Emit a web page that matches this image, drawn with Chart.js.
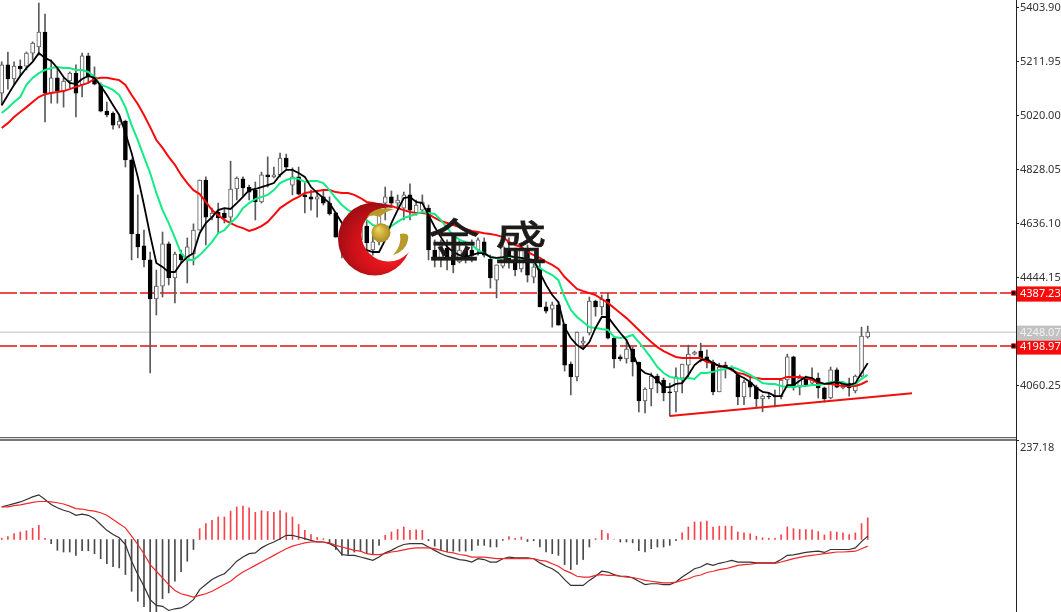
<!DOCTYPE html>
<html>
<head>
<meta charset="utf-8">
<style>
html,body{margin:0;padding:0;background:#fff;width:1061px;height:612px;overflow:hidden}
canvas{position:absolute;left:0;display:block}
#c1{top:0}
#c2{top:440px}
#axis{position:absolute;left:1016px;top:0;width:1px;height:612px;background:#222}
#sep{position:absolute;left:0;top:437px;width:1016px;height:1px;background:#666;border-bottom:1px solid #ddd;box-shadow:0 2px 0 #777}
</style>
<script src="https://cdn.jsdelivr.net/npm/chart.js@4/dist/chart.umd.min.js"></script>
</head>
<body>
<canvas id="c1" width="1061" height="436"></canvas>
<canvas id="c2" width="1061" height="172"></canvas>
<div id="sep"></div>
<div id="axis"></div>
<script>
const opens=[5098,5198,5148,5194,5194,5240,5262,5315,5098,5152,
5105,5141,5169,5127,5230,5155,5127,5034,5027,4984,
4998,4860,4597,4555,4505,4366,4412,4562,4441,4526,
4505,4526,4611,4789,4657,4675,4671,4657,4757,4793,
4764,4753,4711,4807,4800,4807,4867,4771,4800,4736,
4729,4721,4729,4707,4672,4586,4558,4523,4576,4625,
4540,4569,4707,4729,4707,4689,4736,4672,4682,4689,
4540,4512,4547,4522,4498,4540,4540,4540,4569,4508,
4433,4483,4540,4505,4473,4540,4444,4476,4338,4330,
4345,4277,4135,4089,4209,4245,4359,4338,4366,4227,
4160,4153,4188,4142,4004,4046,4092,4078,4036,4036,
4085,4131,4170,4181,4160,4142,4036,4131,4114,4096,
4018,4071,4053,4011,4021,4021,4018,4078,4160,4053,
4085,4067,4085,4050,4014,4114,4050,4067,4039,4092,4231];
const highs=[5209,5244,5209,5216,5244,5280,5418,5379,5216,5187,
5152,5173,5198,5240,5240,5191,5134,5066,5031,5020,
5002,4864,4736,4611,4533,4469,4604,4569,4533,4540,
4583,4633,4789,4800,4689,4707,4689,4856,4800,4800,
4771,4782,4817,4871,4835,4885,4881,4832,4835,4778,
4753,4753,4753,4729,4675,4593,4576,4593,4640,4647,
4593,4689,4764,4750,4736,4746,4775,4718,4736,4700,
4576,4576,4576,4558,4576,4558,4576,4583,4583,4522,
4487,4576,4583,4547,4558,4558,4505,4505,4355,4355,
4355,4277,4142,4248,4231,4373,4362,4380,4387,4231,
4167,4220,4195,4142,4050,4103,4099,4085,4067,4121,
4135,4202,4181,4209,4185,4149,4138,4142,4128,4103,
4078,4089,4060,4025,4032,4042,4078,4170,4163,4096,
4092,4121,4103,4053,4124,4121,4071,4085,4096,4266,4270];
const lows=[5055,5112,5127,5159,5180,5216,5233,4995,5062,5062,
5048,5116,5013,5084,5137,5127,5031,5013,4970,4974,
4835,4505,4512,4480,4103,4309,4373,4416,4352,4494,
4423,4487,4611,4558,4647,4600,4636,4640,4718,4729,
4718,4647,4707,4764,4796,4800,4828,4736,4736,4672,
4682,4657,4700,4664,4586,4512,4498,4487,4540,4540,
4522,4558,4647,4693,4693,4647,4647,4664,4675,4505,
4480,4480,4469,4459,4494,4494,4498,4522,4515,4405,
4370,4476,4476,4448,4462,4426,4423,4338,4316,4266,
4273,4110,4025,4075,4192,4238,4305,4309,4224,4121,
4146,4138,4092,3965,3961,3986,4032,4004,3950,3965,
4032,4089,4167,4142,4121,4025,4036,4085,4110,3990,
3990,4018,3982,3965,4011,3982,4011,4053,4042,4025,
4057,4064,4014,4000,4011,4050,4046,4021,4032,4089,4227];
const closes=[5198,5148,5194,5184,5240,5276,5315,5098,5152,5105,
5141,5169,5098,5230,5155,5130,5034,5020,4984,4998,
4860,4597,4551,4505,4366,4412,4562,4441,4526,4505,
4551,4611,4789,4657,4671,4654,4654,4757,4796,4761,
4746,4711,4807,4800,4807,4867,4835,4800,4739,4729,
4721,4729,4707,4668,4586,4540,4523,4576,4618,4565,
4569,4682,4729,4707,4718,4736,4682,4700,4711,4540,
4512,4558,4512,4487,4540,4512,4522,4576,4522,4441,
4487,4551,4498,4469,4540,4451,4480,4338,4323,4345,
4273,4131,4089,4248,4216,4359,4338,4366,4227,4153,
4153,4188,4142,4004,4046,4092,4067,4032,4032,4089,
4135,4170,4177,4156,4142,4036,4124,4121,4121,4018,
4071,4053,4011,4021,4018,4018,4078,4160,4053,4085,
4060,4085,4050,4011,4114,4053,4064,4050,4092,4234,4248.07];
const maFast=[5055,5091,5127,5159,5187,5209,5240,5223,5212,5187,
5155,5134,5130,5148,5159,5152,5123,5091,5055,5020,
4956,4885,4800,4700,4593,4494,4480,4462,4462,4494,
4515,4529,4600,4636,4657,4682,4689,4686,4707,4729,
4753,4757,4764,4771,4778,4807,4825,4825,4814,4800,
4764,4743,4725,4707,4672,4636,4600,4576,4547,4540,
4533,4533,4576,4636,4682,4725,4729,4711,4707,4664,
4622,4586,4551,4533,4522,4515,4522,4529,4529,4515,
4512,4515,4519,4515,4512,4508,4505,4459,4416,4380,
4355,4266,4227,4202,4188,4213,4263,4302,4302,4273,
4245,4220,4174,4121,4103,4096,4078,4053,4053,4064,
4067,4096,4131,4149,4153,4138,4128,4124,4117,4096,
4085,4071,4050,4036,4032,4021,4021,4060,4060,4075,
4089,4085,4071,4064,4067,4071,4064,4060,4067,4103,4138];
const maMid=[5027,5045,5066,5084,5127,5152,5169,5180,5187,5191,
5187,5187,5180,5180,5173,5155,5127,5120,5109,5091,
5048,4984,4931,4871,4814,4743,4682,4636,4583,4529,
4505,4505,4522,4544,4569,4600,4611,4636,4657,4689,
4707,4721,4729,4736,4753,4778,4789,4796,4793,4782,
4785,4785,4778,4753,4725,4700,4682,4672,4664,4647,
4629,4622,4622,4625,4640,4654,4661,4668,4675,4672,
4668,4647,4618,4593,4576,4569,4558,4540,4529,4515,
4512,4512,4515,4515,4512,4508,4494,4476,4462,4451,
4433,4373,4327,4302,4284,4266,4263,4259,4256,4231,
4227,4231,4238,4213,4185,4156,4124,4103,4089,4085,
4082,4085,4082,4103,4103,4107,4114,4117,4124,4117,
4107,4096,4082,4067,4064,4064,4057,4053,4053,4057,
4057,4060,4060,4064,4071,4071,4071,4060,4064,4082,4096];
const maSlow=[4974,4991,5013,5031,5048,5066,5084,5094,5098,5102,
5105,5112,5120,5127,5134,5148,5152,5152,5148,5144,
5127,5091,5059,5020,4977,4931,4903,4871,4843,4807,
4778,4753,4739,4711,4682,4664,4647,4636,4625,4618,
4608,4615,4625,4640,4664,4689,4704,4718,4729,4743,
4746,4750,4753,4753,4746,4743,4743,4736,4725,4711,
4707,4700,4700,4697,4689,4682,4675,4672,4672,4668,
4654,4643,4636,4629,4622,4615,4608,4604,4600,4597,
4593,4586,4569,4558,4551,4533,4522,4512,4498,4487,
4473,4444,4423,4402,4394,4387,4380,4366,4352,4334,
4316,4298,4277,4256,4234,4213,4195,4181,4170,4160,
4156,4156,4156,4156,4142,4138,4128,4124,4114,4103,
4099,4089,4085,4082,4082,4082,4082,4089,4089,4089,
4085,4078,4067,4064,4064,4060,4057,4057,4057,4064,4075];
const macdHist=[3,7,14,18,21,27,34,3,-10,-26,
-30,-30,-38,-27,-27,-34,-46,-58,-65,-68,
-84,-124,-148,-161,-176,-176,-142,-128,-100,-77,
-52,-24,26,38,46,54,54,68,78,80,
76,65,69,67,65,69,64,54,36,22,
12,5,2,-10,-24,-38,-36,-30,-28,-34,
-34,-14,10,18,24,30,22,23,22,-3,
-16,-26,-30,-28,-28,-28,-26,-14,-14,-18,
-18,-2,7,3,6,-5,-3,-18,-30,-34,
-38,-60,-72,-60,-48,-18,2,22,14,0,
-6,-6,-8,-27,-30,-22,-18,-18,-14,-3,
16,30,42,42,44,30,32,32,32,18,
16,14,8,4,3,3,11,30,26,24,
24,23,19,11,19,18,16,12,16,38,52];
const macdLine=[78,82,86,90,96,102,107,96,84,76,
70,66,58,61,58,50,36,22,12,4,
-12,-52,-84,-112,-144,-158,-160,-170,-166,-164,
-156,-144,-120,-108,-96,-88,-82,-68,-52,-42,
-34,-32,-20,-12,-6,2,10,10,6,2,
-2,-6,-6,-10,-18,-36,-38,-38,-42,-46,
-50,-42,-32,-26,-18,-12,-10,-10,-10,-18,
-26,-34,-40,-44,-48,-50,-54,-46,-48,-54,
-54,-46,-42,-44,-44,-44,-46,-56,-64,-70,
-80,-96,-110,-110,-110,-98,-88,-76,-78,-84,
-88,-88,-92,-100,-108,-106,-106,-108,-108,-102,
-90,-80,-70,-66,-58,-62,-57,-54,-50,-54,
-54,-54,-56,-56,-56,-56,-48,-38,-37,-34,
-31,-29,-28,-31,-24,-24,-24,-24,-20,-5,8];
const macdSignal=[78,78,81,83,86,89,91,91,90,88,
85,80,74,73,70,68,64,58,48,38,
28,8,-12,-34,-60,-76,-92,-108,-122,-130,
-134,-138,-134,-130,-124,-116,-108,-100,-88,-78,
-70,-62,-54,-46,-38,-30,-22,-16,-12,-8,
-6,-5,-6,-8,-14,-18,-22,-26,-28,-34,
-36,-36,-34,-30,-28,-25,-22,-20,-20,-20,
-22,-26,-30,-32,-36,-38,-42,-42,-42,-44,
-46,-46,-46,-46,-46,-46,-46,-50,-52,-58,
-64,-74,-80,-88,-90,-90,-86,-84,-86,-86,
-88,-90,-91,-94,-98,-100,-102,-104,-104,-102,
-98,-94,-88,-85,-79,-76,-72,-70,-66,-62,
-60,-59,-57,-57,-57,-57,-54,-50,-46,-43,
-40,-38,-36,-34,-32,-30,-30,-29,-28,-22,-16];
const priceTicks=[4060.25,4198.97,4248.07,4387.23,4444.15,4636.10,4828.05,5020.00,5211.95,5403.90];
const macdTicks=[237.18];
const levelRed1=4387.23, levelRed2=4198.97, levelGray=4248.07;
const trendX=[108,147.16], trendY=[3950,4031];
const priceMin=3879, priceMax=5428.8, macdMin=-173.7, macdMax=238.4;
const xMin=-0.275, xMax=163.97, handleX=163.6;

const FONT="'Noto Sans',sans-serif";
const idx=opens.map((_,i)=>i);

const logoPlugin={id:'logo',afterDatasetsDraw(chart){
  const c=chart.ctx;c.save();
  c.save();
  c.beginPath();c.rect(300,170,160,140);c.arc(388.5,234.5,27,0,Math.PI*2,true);c.clip('evenodd');
  const g=c.createRadialGradient(395,255,6,372,240,44);
  g.addColorStop(0,'#f01c20');g.addColorStop(0.55,'#d01218');g.addColorStop(1,'#8c0a12');
  c.fillStyle=g;c.beginPath();c.arc(374.5,239,36.5,0,Math.PI*2);c.fill();
  c.restore();
  const b=c.createRadialGradient(378,229,1,381,233,10);
  b.addColorStop(0,'#ecd25e');b.addColorStop(1,'#a8891c');
  c.fillStyle=b;c.beginPath();c.arc(381,232.7,9.5,0,Math.PI*2);c.fill();
  c.fillStyle='#b79a2a';
  c.beginPath();c.moveTo(367,217);c.quadraticCurveTo(374,206,394,209);c.quadraticCurveTo(384,212,380,217);c.quadraticCurveTo(373,214,367,217);c.fill();
  c.beginPath();c.moveTo(393,255);c.quadraticCurveTo(402,246,400,234);c.quadraticCurveTo(410,232,408,240);c.quadraticCurveTo(406,251,393,255);c.fill();
  c.fillStyle='#1d1a1a';c.strokeStyle='#1d1a1a';c.lineWidth=0.7;
  c.font="46px 'Noto Sans CJK SC'";c.textAlign='center';c.textBaseline='alphabetic';
  [['金',454,257],['盛',521,259]].forEach(([t,x,y])=>{
    c.save();c.translate(x,y);c.scale(1.13,1);c.fillText(t,0,0);c.strokeText(t,0,0);c.restore();
  });
  c.restore();
}};

function fitAxis(s){s.width=45;s.paddingTop=0;s.paddingBottom=0;s._margins={left:0,top:0,right:0,bottom:0};}
function baseX(){return {type:'linear',display:false,offset:false,min:xMin,max:xMax};}
const isRed=v=>v===levelRed1||v===levelRed2;
const isGray=v=>v===levelGray;

new Chart(document.getElementById('c1'),{
  type:'bar',
  plugins:[logoPlugin],
  data:{datasets:[
    {type:'line',data:[{x:xMin,y:levelGray},{x:xMax,y:levelGray}],borderColor:'#d4d4d4',borderWidth:1.5,pointRadius:0,order:9},
    {type:'line',data:[{x:xMin,y:levelRed1},{x:handleX,y:levelRed1}],borderColor:'#f01010',borderWidth:1.4,borderDash:[17,3],pointRadius:0,order:8},
    {type:'line',data:[{x:xMin,y:levelRed2},{x:handleX,y:levelRed2}],borderColor:'#e01010',borderWidth:1.4,borderDash:[17,3],pointRadius:0,order:8},
    {type:'line',showLine:false,data:[{x:handleX,y:levelRed1},{x:handleX,y:levelRed2}],pointStyle:'rect',pointRadius:3,pointBackgroundColor:'#000',pointBorderColor:'#e01010',pointBorderWidth:1,order:7},
    {label:'wick',data:idx.map(i=>({x:i,y:[lows[i],highs[i]]})),backgroundColor:'#5a5a5a',borderWidth:0,barThickness:1,grouped:false,order:6},
    {label:'body',data:idx.map(i=>({x:i,y:[opens[i],closes[i]]})),
      backgroundColor:idx.map(i=>closes[i]>=opens[i]?'#ffffff':'#000000'),
      borderColor:idx.map(i=>closes[i]>=opens[i]?'#5a5a5a':'#000000'),
      borderWidth:1,borderSkipped:false,barThickness:4,grouped:false,order:5},
    {type:'line',data:idx.map(i=>({x:i,y:maSlow[i]})),borderColor:'#f80a0a',borderWidth:2,pointRadius:0,order:3},
    {type:'line',data:idx.map(i=>({x:i,y:maMid[i]})),borderColor:'#12ec86',borderWidth:2,pointRadius:0,order:2},
    {type:'line',data:idx.map(i=>({x:i,y:maFast[i]})),borderColor:'#000',borderWidth:1.8,pointRadius:0,order:1},
    {type:'line',data:trendX.map((x,i)=>({x,y:trendY[i]})),borderColor:'#f01010',borderWidth:2,pointRadius:0,order:0}
  ]},
  options:{
    responsive:false,animation:false,devicePixelRatio:1,
    layout:{padding:0,autoPadding:false},
    plugins:{legend:{display:false},tooltip:{enabled:false}},
    scales:{
      x:baseX(),
      y:{position:'right',min:priceMin,max:priceMax,
        afterBuildTicks(s){s.ticks=priceTicks.map(value=>({value}));},
        afterFit:fitAxis,
        border:{display:false},
        grid:{drawOnChartArea:false,drawTicks:true,tickLength:3,tickColor:'#222'},
        ticks:{autoSkip:false,padding:1,labelOffset:1,font:{family:FONT,size:11},
          color:c=>isRed(c.tick.value)?'#fff':isGray(c.tick.value)?'#f2f2f2':'#333',
          showLabelBackdrop:c=>isRed(c.tick.value)||isGray(c.tick.value),
          backdropColor:c=>isRed(c.tick.value)?'#fa0a0a':'#c2c2c2',
          backdropPadding:{top:1,bottom:1,left:3,right:3},
          callback:v=>Number(v).toFixed(2)}
      }
    }
  }
});

new Chart(document.getElementById('c2'),{
  type:'bar',
  data:{datasets:[
    {data:idx.map(i=>({x:i,y:macdHist[i]})),
      backgroundColor:macdHist.map(v=>v>=0?'#f8424a':'#4a4a4a'),
      borderWidth:0,barThickness:1,grouped:false,order:5},
    {type:'line',data:idx.map(i=>({x:i,y:macdSignal[i]})),borderColor:'#f0282c',borderWidth:1.2,pointRadius:0,order:1},
    {type:'line',data:idx.map(i=>({x:i,y:macdLine[i]})),borderColor:'#333',borderWidth:1.2,pointRadius:0,order:2}
  ]},
  options:{
    responsive:false,animation:false,devicePixelRatio:1,
    layout:{padding:0,autoPadding:false},
    plugins:{legend:{display:false},tooltip:{enabled:false}},
    scales:{
      x:baseX(),
      y:{position:'right',min:macdMin,max:macdMax,
        afterBuildTicks(s){s.ticks=macdTicks.map(value=>({value}));},
        afterFit:fitAxis,
        border:{display:false},
        grid:{drawOnChartArea:false,drawTicks:true,tickLength:3,tickColor:'#222'},
        ticks:{autoSkip:false,padding:1,labelOffset:7,font:{family:FONT,size:11},color:'#333',
          callback:v=>Number(v).toFixed(2)}
      }
    }
  }
});
</script>
</body>
</html>
